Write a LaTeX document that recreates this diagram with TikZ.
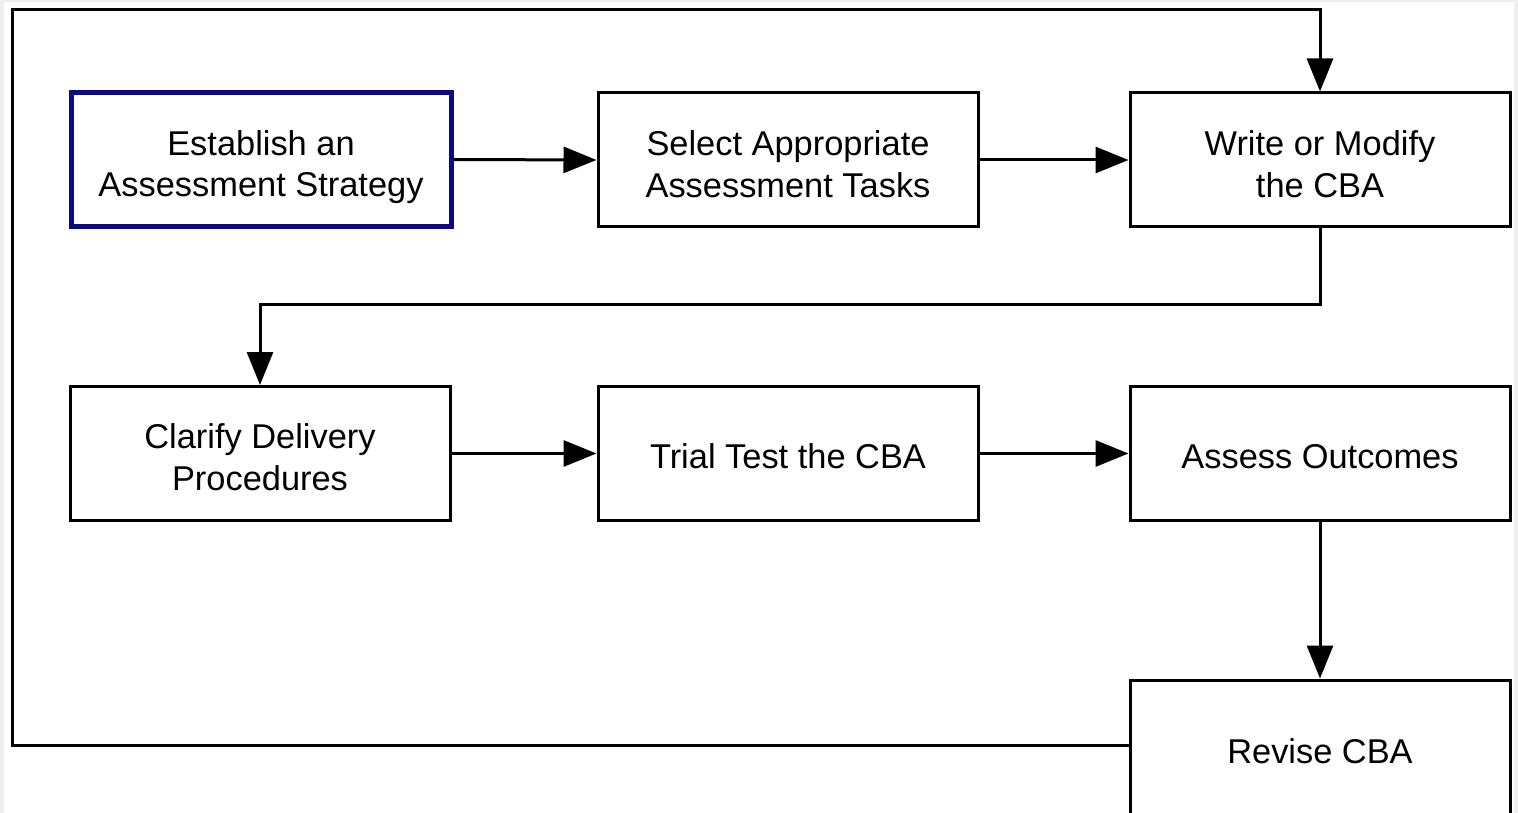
\documentclass[tikz,border=0pt]{standalone}
\usepackage{fontspec}
\setmainfont{Liberation Sans}
\usetikzlibrary{arrows.meta}
\definecolor{navyb}{RGB}{10,10,130}
\definecolor{bggrey}{RGB}{239,239,239}
\tikzset{
  box/.style={draw=black, line width=3pt, fill=white, minimum width=380pt, minimum height=134pt,
    align=center, inner sep=0pt, font=\fontsize{34.4}{41.5}\selectfont},
  twoline/.style={text height=75pt, text depth=0pt},
  oneline/.style={text height=30pt, text depth=0pt},
  startbox/.style={box, draw=navyb, line width=5pt},
  arr/.style={line width=3pt, -{Triangle[length=33pt,width=26pt]}}
}
\begin{document}
\begin{tikzpicture}[x=1pt,y=-1pt]
\useasboundingbox (0,0) rectangle (1518,813);
\clip (0,0) rectangle (1518,813);
\fill[bggrey] (0,0) rectangle (1518,813);
\fill[white] (4,2) rectangle (1514,813);
\node[startbox, twoline] (b1) at (261,159.5) {Establish an\\Assessment Strategy};
\node[box, twoline] (b2) at (788,160) {Select Appropriate\\Assessment Tasks};
\node[box, twoline] (b3) at (1320,160) {Write or Modify\\the CBA};
\node[box, text height=73pt, text depth=0pt] (b4) at (260,453.5) {Clarify Delivery\\Procedures};
\node[box, oneline] (b5) at (788,453.5) {Trial Test the CBA};
\node[box, oneline] (b6) at (1320,453.5) {Assess Outcomes};
\node[box, minimum height=138pt, text height=28pt, text depth=0pt] (b7) at (1320,749) {Revise CBA};
\coordinate (lb) at (12,745);
\coordinate (lt) at (12,10);
\draw[arr] (b1.east) -- (b2.west);
\draw[arr] (b2.east) -- (b3.west);
\draw[arr] (b3.south) -- ++(0,76) -| (b4.north);
\draw[arr] (b4.east) -- (b5.west);
\draw[arr] (b5.east) -- (b6.west);
\draw[arr] (b6.south) -- (b7.north);
\draw[arr] (b7.west |- lb) -- (lb) -- (lt) -| (b3.north);
\end{tikzpicture}
\end{document}
